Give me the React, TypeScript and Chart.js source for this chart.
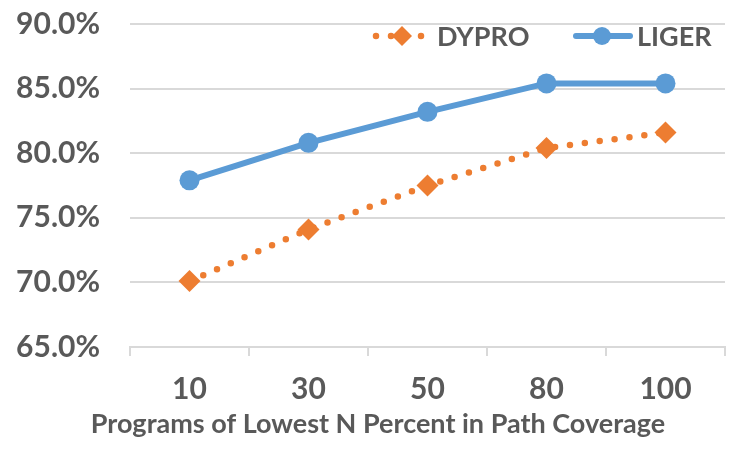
import { useEffect, useRef } from 'react';
import { Chart, registerables } from 'chart.js';

Chart.register(...registerables);

const categories = ['10', '30', '50', '80', '100'];
const dyproValues = [70.1, 74.1, 77.5, 80.4, 81.6];
const ligerValues = [77.9, 80.8, 83.2, 85.4, 85.4];
const yTicks = [65, 70, 75, 80, 85, 90];
const xAxisTitle = 'Programs of Lowest N Percent in Path Coverage';

const ORANGE = '#ED7D31';
const BLUE = '#5B9BD5';
const TEXT = '#595959';
const GRID = '#D9D9D9';
const FONT = 'Lato, "Open Sans", sans-serif';

// legend + axis title drawn by hand: Excel-style line samples with the marker on them,
// and the title centred on the whole picture rather than the plot
const lineLegend = {
  id: 'lineLegend',
  afterDraw(chart: Chart) {
    const ctx = chart.ctx;
    const y = 36;
    const items = [
      { x: 372, index: 0 },
      { x: 572, index: 1 },
    ];
    ctx.save();
    items.forEach(({ x, index }) => {
      const ds = chart.data.datasets[index] as any;
      ctx.beginPath();
      ctx.strokeStyle = ds.borderColor;
      ctx.lineWidth = ds.borderWidth;
      ctx.lineCap = 'round';
      ctx.setLineDash(ds.borderDash || []);
      ctx.moveTo(x + 4, y);
      ctx.lineTo(x + 58, y);
      ctx.stroke();
      ctx.setLineDash([]);
      ctx.fillStyle = ds.backgroundColor;
      ctx.beginPath();
      const cx = x + 30;
      if (ds.pointStyle === 'rectRot') {
        const r = 10;
        ctx.moveTo(cx, y - r);
        ctx.lineTo(cx + r, y);
        ctx.lineTo(cx, y + r);
        ctx.lineTo(cx - r, y);
        ctx.closePath();
      } else {
        ctx.arc(cx, y, 9, 0, Math.PI * 2);
      }
      ctx.fill();
      ctx.font = `bold 27px ${FONT}`;
      ctx.fillStyle = TEXT;
      ctx.textBaseline = 'middle';
      ctx.textAlign = 'left';
      ctx.fillText(ds.label, x + 65, y + 1);
    });

    ctx.font = `bold 27px ${FONT}`;
    ctx.fillStyle = TEXT;
    ctx.textAlign = 'center';
    ctx.textBaseline = 'middle';
    ctx.fillText(xAxisTitle, 378, 424);
    ctx.restore();
  },
};

export default function App() {
  const canvasRef = useRef<HTMLCanvasElement>(null);
  const chartRef = useRef<Chart | null>(null);

  useEffect(() => {
    if (!canvasRef.current) return;
    chartRef.current?.destroy();

    chartRef.current = new Chart(canvasRef.current, {
      type: 'line',
      data: {
        labels: categories,
        datasets: [
          {
            label: 'DYPRO',
            data: dyproValues,
            borderColor: ORANGE,
            backgroundColor: ORANGE,
            borderWidth: 6.5,
            borderDash: [0, 15],
            borderCapStyle: 'round',
            pointStyle: 'rectRot',
            pointRadius: 11,
            pointBorderWidth: 0,
            tension: 0,
          },
          {
            label: 'LIGER',
            data: ligerValues,
            borderColor: BLUE,
            backgroundColor: BLUE,
            borderWidth: 6,
            pointStyle: 'circle',
            pointRadius: 10,
            pointBorderWidth: 0,
            tension: 0,
          },
        ],
      },
      options: {
        responsive: true,
        maintainAspectRatio: false,
        animation: false,
        layout: { padding: { top: 24, right: 25, left: 0, bottom: 0 } },
        plugins: {
          legend: { display: false },
          tooltip: { enabled: false },
        },
        scales: {
          x: {
            offset: true,
            afterFit: (axis: any) => {
              axis.height = 103;
              axis.paddingLeft = 0;
              axis.paddingRight = 0;
            },
            grid: {
              offset: true,
              drawOnChartArea: false,
              tickLength: 9,
              color: GRID,
              lineWidth: 2,
            },
            border: { color: GRID, width: 2 },
            ticks: { color: TEXT, font: { family: FONT, size: 30, weight: 'bold' }, padding: 15 },
          },
          y: {
            min: yTicks[0],
            max: yTicks[yTicks.length - 1],
            afterBuildTicks: (axis: any) => {
              axis.ticks = yTicks.map((value) => ({ value }));
            },
            afterFit: (axis: any) => {
              axis.width = 130;
              axis.paddingTop = 0;
              axis.paddingBottom = 0;
            },
            grid: { color: GRID, lineWidth: 2, drawTicks: false },
            border: { display: false },
            ticks: {
              color: TEXT,
              font: { family: FONT, size: 30, weight: 'bold' },
              padding: 30,
              callback: (value: any) => `${Number(value).toFixed(1)}%`,
            },
          },
        },
      },
      plugins: [lineLegend],
    });

    return () => chartRef.current?.destroy();
  }, []);

  return (
    <div style={{ position: 'absolute', left: 0, top: 0, width: 750, height: 450, background: '#fff' }}>
      <canvas ref={canvasRef} />
    </div>
  );
}
